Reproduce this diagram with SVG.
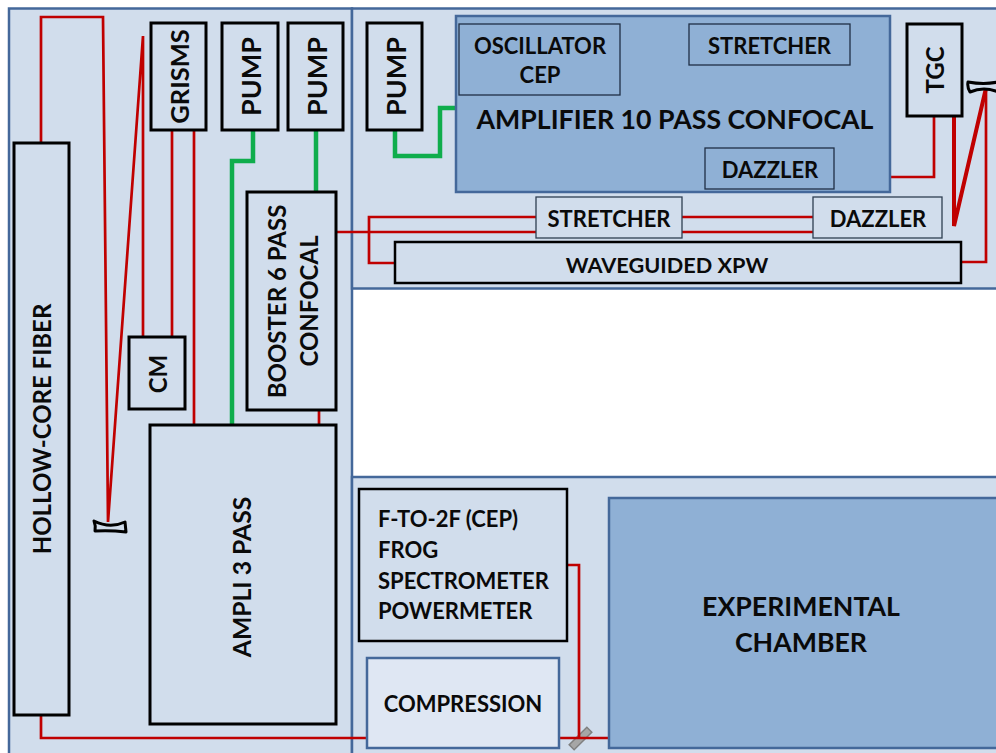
<svg xmlns="http://www.w3.org/2000/svg" width="996" height="753" viewBox="0 0 996 753">
<style>
text{font-family:Lato,"Liberation Sans",sans-serif;font-weight:700;fill:#0a0a0a;text-anchor:middle;dominant-baseline:central;font-size:24px}
.h{font-size:22px}
.panel{fill:#d1ddec;stroke:#44689a;stroke-width:2.5}
.blk{fill:#d1ddec;stroke:#000;stroke-width:3}
.thin{fill:#d1ddec;stroke:#2f3f52;stroke-width:1.3}
.inner{fill:#8fb0d5;stroke:#1f2f45;stroke-width:1.3}
.blue{fill:#8fb0d5;stroke:#44689a;stroke-width:2.5}
.r{fill:none;stroke:#c00000;stroke-width:2.700}
.r2{fill:none;stroke:#c00000;stroke-width:4}
.g{fill:none;stroke:#0fad4c;stroke-width:4.500}
.mir{fill:#d1ddec;stroke:#000;stroke-width:3;stroke-linejoin:round}
</style>
<rect width="996" height="753" fill="#fff"/>
<g id="panels">
<rect class="panel" x="9" y="8.500" width="343" height="750"/>
<rect class="panel" x="352" y="8.500" width="650" height="280"/>
<rect class="panel" x="352" y="477" width="650" height="285"/>
</g>
<g id="beam-splitter"><rect x="568" y="735" width="25" height="7" fill="#a6a6a6" stroke="#808080" stroke-width="1.500" transform="rotate(-45 580.500 738.500)"/></g>
<g id="connectors">
<path class="r" d="M41 143V17H103L108 522L143 36V337"/>
<path class="r" d="M172 130V337M194 130V426"/>
<path class="r" d="M319 410V426"/>
<path class="g" d="M253 130V161H232V426"/>
<path class="g" d="M316 130V192"/>
<path class="g" d="M395 130V156H440V108H457"/>
<path class="r" d="M890 177H934V116"/>
<path class="r2" d="M954 116V226L986 88"/>
<path class="r" d="M986 88V262H961"/>
<path class="r" d="M336 232H813M536 217H369V263H395M682 217H813"/>
<path class="r" d="M41 714V738H367M559 738H609"/>
<path class="r" d="M567 565H579V738"/>
</g>
<g id="hollow-core-fiber"><rect class="blk" x="14" y="143" width="55" height="572"/><text transform="translate(41.500 429) rotate(-90)">HOLLOW-CORE FIBER</text></g>
<g id="grisms"><rect class="blk" x="151" y="23" width="55" height="107"/><text style="font-size:25.500px" transform="translate(179 76.500) rotate(-90)">GRISMS</text></g>
<g id="pump-1"><rect class="blk" x="222" y="23" width="56" height="107"/><text style="font-size:27px" transform="translate(250 76.500) rotate(-90)">PUMP</text></g>
<g id="pump-2"><rect class="blk" x="288" y="23" width="55" height="107"/><text style="font-size:27px" transform="translate(316 76.500) rotate(-90)">PUMP</text></g>
<g id="pump-3"><rect class="blk" x="367" y="23" width="55" height="107"/><text style="font-size:27px" transform="translate(395 76.500) rotate(-90)">PUMP</text></g>
<g id="cm"><rect class="blk" x="129" y="337" width="56" height="72"/><text transform="translate(157 374) rotate(-90)">CM</text></g>
<g id="booster"><rect class="blk" x="247" y="192" width="89" height="218"/><text transform="translate(276 301.500) rotate(-90)">BOOSTER 6 PASS</text><text transform="translate(308 301) rotate(-90)">CONFOCAL</text></g>
<g id="ampli-3-pass"><rect class="blk" x="150" y="425" width="186" height="299"/><text style="font-size:24.700px" transform="translate(241 577) rotate(-90)">AMPLI 3 PASS</text></g>
<g id="amplifier"><rect class="blue" x="456" y="16" width="434" height="176"/><text x="675" y="119" style="font-size:26.700px">AMPLIFIER 10 PASS CONFOCAL</text></g>
<g id="oscillator"><rect class="inner" x="459" y="24" width="161" height="71"/><text class="h" x="540" y="45">OSCILLATOR</text><text class="h" x="540" y="74">CEP</text></g>
<g id="stretcher-top"><rect class="inner" x="689" y="24" width="161" height="41"/><text class="h" x="769.500" y="45">STRETCHER</text></g>
<g id="dazzler-top"><rect class="inner" x="705" y="148" width="129" height="41"/><text class="h" x="770" y="169">DAZZLER</text></g>
<g id="tgc"><rect class="blk" x="907" y="24" width="55" height="92"/><text transform="translate(934 70) rotate(-90)">TGC</text></g>
<g id="mirror-top"><path class="mir" d="M968 82Q984 85 998 82V92Q984 86 970 92Q967 87 968 82Z"/></g>
<g id="stretcher-mid"><rect class="thin" x="536" y="197" width="146" height="41"/><text class="h" x="609" y="218">STRETCHER</text></g>
<g id="dazzler-mid"><rect class="thin" x="813" y="197" width="129" height="41"/><text class="h" x="878" y="218">DAZZLER</text></g>
<g id="waveguided-xpw"><rect class="blk" style="stroke-width:2.500" x="395" y="242" width="566" height="41"/><text x="667" y="264.500" style="font-size:21.700px">WAVEGUIDED XPW</text></g>
<g id="mirror-left"><path class="mir" d="M94 521Q110 529 125 522L126 532Q110 530 95 531Q96 526 94 521Z"/></g>
<g id="diagnostics"><rect class="blk" style="stroke-width:2.500" x="359" y="489" width="208" height="152"/><text class="h" x="378" y="518" style="text-anchor:start">F-TO-2F (CEP)</text><text class="h" x="378" y="549" style="text-anchor:start">FROG</text><text class="h" x="378" y="580" style="text-anchor:start">SPECTROMETER</text><text class="h" x="378" y="610" style="text-anchor:start">POWERMETER</text></g>
<g id="compression"><rect x="367" y="658" width="192" height="90" fill="#dfe7f3" stroke="#44689a" stroke-width="2.500"/><text class="h" x="463" y="703.500">COMPRESSION</text></g>
<g id="experimental-chamber"><rect class="blue" x="609" y="498" width="392" height="250"/><text x="801" y="606" style="font-size:26.700px">EXPERIMENTAL</text><text x="801" y="642" style="font-size:26.700px">CHAMBER</text></g>
</svg>
